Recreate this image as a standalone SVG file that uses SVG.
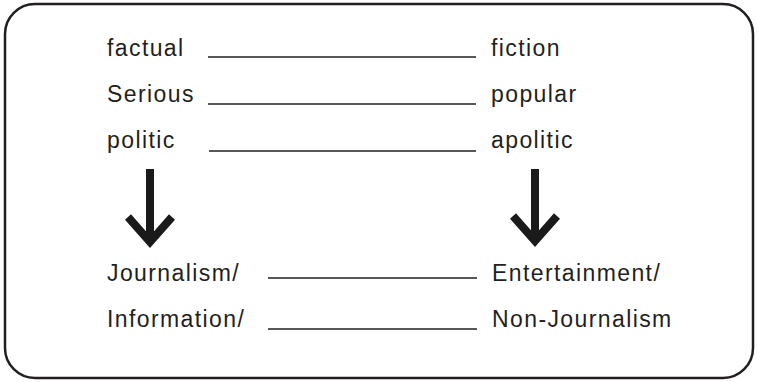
<svg xmlns="http://www.w3.org/2000/svg" width="758" height="382" viewBox="0 0 758 382">
  <style>
    .lbl { font-family: "Liberation Sans", Arial, sans-serif; font-size: 23px; letter-spacing: 1.4px; fill: #231f20; }
    .rule { stroke: #231f20; stroke-width: 1.4; fill: none; }
    .arrow { stroke: #1a1a1a; stroke-width: 8; fill: none; }
  </style>
  <rect x="5" y="4" width="748" height="374" rx="30" ry="30" fill="#fff" stroke="#231f20" stroke-width="2.5"/>

  <g id="connectors">
    <line class="rule" x1="208" y1="57" x2="476" y2="57"/>
    <line class="rule" x1="208" y1="104" x2="476" y2="104"/>
    <line class="rule" x1="209" y1="151" x2="476" y2="151"/>
    <line class="rule" x1="268" y1="278" x2="477" y2="278"/>
    <line class="rule" x1="268" y1="329" x2="477" y2="329"/>
    <g id="arrow-left">
      <line class="arrow" x1="150" y1="169" x2="150" y2="242"/>
      <polyline class="arrow" points="128,217 150,242 172,217"/>
    </g>
    <g id="arrow-right">
      <line class="arrow" x1="535" y1="169" x2="535" y2="241"/>
      <polyline class="arrow" points="513,216 535,241 557,216"/>
    </g>
  </g>

  <g id="factual"><text class="lbl" x="107" y="56">factual</text></g>
  <g id="fiction"><text class="lbl" x="491" y="56">fiction</text></g>
  <g id="serious"><text class="lbl" x="107" y="102">Serious</text></g>
  <g id="popular"><text class="lbl" x="491" y="102">popular</text></g>
  <g id="politic"><text class="lbl" x="107" y="148">politic</text></g>
  <g id="apolitic"><text class="lbl" x="491" y="148">apolitic</text></g>
  <g id="journalism"><text class="lbl" x="107" y="281">Journalism/</text></g>
  <g id="entertainment"><text class="lbl" x="492" y="281">Entertainment/</text></g>
  <g id="information"><text class="lbl" x="107" y="327">Information/</text></g>
  <g id="non-journalism"><text class="lbl" x="492" y="327">Non-Journalism</text></g>
</svg>
